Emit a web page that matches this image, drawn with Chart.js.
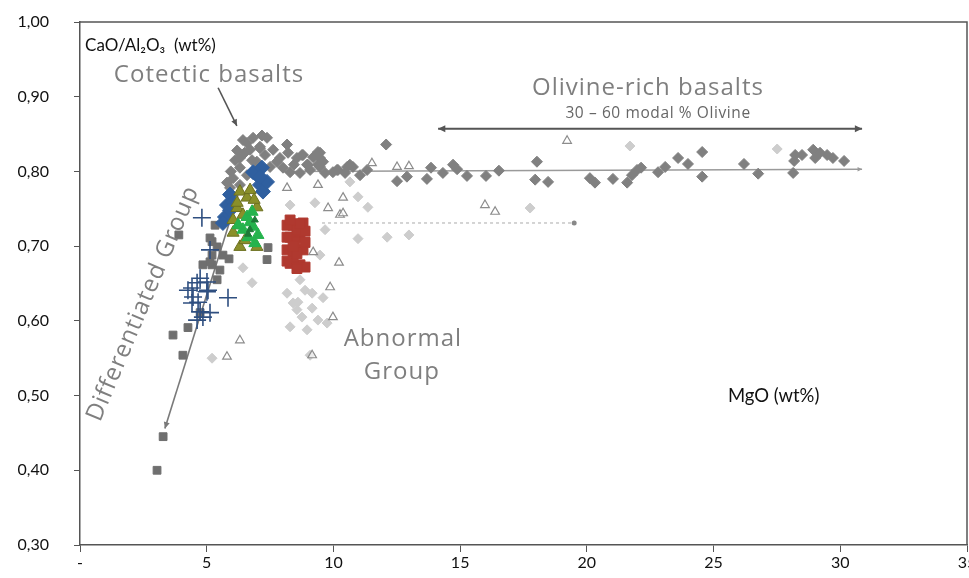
<!DOCTYPE html>
<html>
<head>
<meta charset="utf-8">
<script src="https://cdn.jsdelivr.net/npm/chart.js@4.4.1/dist/chart.umd.min.js"></script>
<style>
  html, body { margin: 0; padding: 0; background: #ffffff; overflow: hidden; }
  #wrap { width: 969px; height: 578px; overflow: hidden; position: relative; }
  #chart { position: absolute; left: 0; top: 0; }
</style>
</head>
<body>
<div id="wrap"><canvas id="chart" width="985" height="578"></canvas></div>
<script>
// Axis ticks
const xTickValues = [0, 5, 10, 15, 20, 25, 30, 35];
const xTickLabels = ['-', '5', '10', '15', '20', '25', '30', '35'];
const yTickLabels = ['0,30', '0,40', '0,50', '0,60', '0,70', '0,80', '0,90', '1,00'];

// Olivine-rich and cotectic basalts (MgO wt%, CaO/Al2O3)
const olivineMgO = [6.43, 6.83, 7.38, 7.18, 6.71, 6.31, 7.10, 7.62, 8.17, 8.21, 8.56, 8.80, 8.96, 9.20,
  6.31, 6.04, 5.80, 6.59, 7.77, 8.01, 7.50, 6.98, 8.29, 8.68, 9.08, 5.92, 6.31, 6.59, 7.10, 9.47, 9.59,
  10.14, 10.54, 6.12, 6.79, 7.30, 7.89, 8.44, 6.90, 9.39, 5.95, 6.20, 6.50,
  8.76, 8.99, 9.39, 9.47, 9.47, 9.67, 9.98, 10.18, 10.46, 10.65, 10.77, 11.05, 11.33, 12.08, 12.51, 12.90,
  13.69, 13.85, 14.32, 14.72, 14.88, 15.27, 16.02, 16.53, 18.03, 17.96, 18.47, 20.12, 20.32, 21.03, 21.59,
  21.78, 21.98, 22.14, 22.81, 23.09, 23.60, 23.99, 24.55, 24.55, 26.20, 26.76, 28.14, 28.18, 28.22, 28.49,
  28.93, 29.01, 29.20, 29.48, 29.71, 30.15];
const olivineRatio = [0.842, 0.845, 0.845, 0.848, 0.829, 0.818, 0.831, 0.829, 0.836, 0.825, 0.818, 0.822, 0.809, 0.819,
  0.805, 0.791, 0.785, 0.795, 0.813, 0.805, 0.806, 0.813, 0.799, 0.798, 0.802, 0.778, 0.782, 0.838, 0.833, 0.825, 0.813,
  0.802, 0.806, 0.815, 0.815, 0.822, 0.818, 0.809, 0.802, 0.809, 0.800, 0.828, 0.825,
  0.822, 0.809, 0.826, 0.818, 0.806, 0.798, 0.799, 0.802, 0.798, 0.809, 0.806, 0.795, 0.802, 0.836, 0.787, 0.793,
  0.790, 0.805, 0.798, 0.809, 0.803, 0.794, 0.794, 0.801, 0.813, 0.789, 0.786, 0.791, 0.785, 0.790, 0.785,
  0.795, 0.802, 0.805, 0.799, 0.806, 0.818, 0.810, 0.826, 0.793, 0.810, 0.797, 0.798, 0.814, 0.822, 0.822,
  0.829, 0.818, 0.825, 0.822, 0.818, 0.814];

// Abnormal group, light grey diamonds
const abnormalMgO = [9.27, 9.67, 10.65, 10.97, 11.36, 10.97, 12.12, 12.98, 17.76, 21.70, 27.51, 8.29,
  6.43, 6.79, 8.17, 8.60, 9.16, 9.59, 8.56, 8.76, 9.16, 9.39, 9.75, 8.29, 8.96, 9.08, 5.21, 9.47, 8.41, 8.88, 8.68];
const abnormalRatio = [0.758, 0.722, 0.786, 0.766, 0.752, 0.710, 0.712, 0.715, 0.751, 0.834, 0.830, 0.755,
  0.671, 0.651, 0.637, 0.625, 0.637, 0.631, 0.615, 0.605, 0.617, 0.601, 0.597, 0.592, 0.588, 0.554, 0.550, 0.688, 0.624, 0.641, 0.655];

// Open triangles
const openTriMgO = [9.39, 9.79, 10.26, 10.38, 10.38, 11.52, 12.51, 12.98, 15.98, 16.38, 19.22, 9.20, 10.22, 9.87, 9.98, 9.16, 6.31, 5.80, 8.17];
const openTriRatio = [0.782, 0.751, 0.742, 0.744, 0.765, 0.811, 0.806, 0.807, 0.755, 0.746, 0.841, 0.692, 0.678, 0.645, 0.605, 0.554, 0.574, 0.552, 0.778];

// Differentiated group, dark grey squares
const diffMgO = [3.04, 3.28, 4.06, 3.67, 4.26, 4.74, 5.41, 4.85, 5.21, 5.52, 5.21, 5.88, 7.38, 5.33, 5.21, 5.64, 5.13, 7.42, 3.90, 5.13, 5.41];
const diffRatio = [0.400, 0.445, 0.554, 0.581, 0.591, 0.611, 0.655, 0.675, 0.675, 0.668, 0.688, 0.683, 0.682, 0.728, 0.706, 0.688, 0.679, 0.698, 0.715, 0.711, 0.699];

// Blue crosses
const crossMgO = [4.81, 5.13, 4.74, 4.42, 4.26, 4.62, 5.01, 4.66, 4.42, 4.74, 4.85, 4.62, 5.84, 5.01, 4.46, 5.05, 5.13];
const crossRatio = [0.738, 0.695, 0.657, 0.644, 0.641, 0.651, 0.652, 0.625, 0.624, 0.612, 0.605, 0.601, 0.631, 0.639, 0.632, 0.641, 0.611];

// Blue diamonds
const blueMgO = [6.98, 7.10, 7.22, 6.83, 7.18, 7.38, 5.92, 5.80, 6.04, 5.72, 5.64, 7.10, 5.92];
const blueRatio = [0.795, 0.782, 0.773, 0.799, 0.805, 0.786, 0.769, 0.755, 0.759, 0.739, 0.731, 0.793, 0.748];

// Olive triangles
const oliveMgO = [6.31, 6.59, 6.20, 6.43, 6.24, 6.04, 6.31, 6.98, 6.20, 6.98, 6.04, 6.71, 6.51, 6.87];
const oliveRatio = [0.773, 0.765, 0.751, 0.742, 0.728, 0.718, 0.699, 0.699, 0.758, 0.752, 0.735, 0.775, 0.708, 0.762];

// Green triangles
const greenMgO = [6.59, 6.83, 6.63, 7.02, 6.43, 6.79, 6.90, 6.24, 6.71];
const greenRatio = [0.739, 0.726, 0.712, 0.715, 0.722, 0.746, 0.704, 0.728, 0.732];
const darkGreenMgO = [6.71, 6.90, 6.63];
const darkGreenRatio = [0.722, 0.735, 0.716];

// Red squares
const redMgO = [8.41, 8.80, 8.29, 8.68, 8.17, 8.80, 8.29, 8.68, 8.88, 8.56, 8.48, 8.41,
  8.17, 8.88, 8.17, 8.88, 8.17, 8.56, 8.56, 8.41, 8.68, 8.29];
const redRatio = [0.728, 0.731, 0.712, 0.712, 0.695, 0.695, 0.677, 0.675, 0.672, 0.722, 0.705, 0.685,
  0.728, 0.720, 0.712, 0.705, 0.680, 0.690, 0.670, 0.700, 0.730, 0.735];

const pts = (xs, ys) => xs.map((x, i) => ({ x: x, y: ys[i] }));

// Guide lines and arrows, in axis units
const guides = [
  { from: [8.0, 0.800], to: [30.86, 0.803], color: '#9a9a9a', width: 1.6, head: 'end', size: 5 },
  { from: [9.55, 0.731], to: [19.5, 0.731], color: '#b8b8b8', width: 1.2, dash: [3, 3], dot: true },
  { from: [14.13, 0.857], to: [30.86, 0.857], color: '#555555', width: 2, head: 'both', size: 8 },
  { from: [5.45, 0.912], to: [6.19, 0.861], color: '#555555', width: 1.6, head: 'end', size: 7 },
  { from: [6.23, 0.768], to: [3.35, 0.456], color: '#7a7a7a', width: 1.6, head: 'end', size: 7 }
];

// Text labels, in axis units
const notes = [
  { text: 'CaO/Al₂O₃  (wt%)', at: [0.2, 0.969], font: '17px Lato', color: '#111111', align: 'left' },
  { text: 'Cotectic basalts', at: [5.09, 0.929], font: '24px "Open Sans"', color: '#7f7f7f', spacing: '1px' },
  { text: 'Olivine-rich basalts', at: [22.41, 0.912], font: '24px "Open Sans"', color: '#7f7f7f', spacing: '1px' },
  { text: '30 – 60 modal % Olivine', at: [22.81, 0.877], font: '15.5px "Open Sans"', color: '#666666', spacing: '0.6px' },
  { text: 'Abnormal', at: [12.74, 0.576], font: '24px "Open Sans"', color: '#7f7f7f', spacing: '1px' },
  { text: 'Group', at: [12.70, 0.532], font: '24px "Open Sans"', color: '#7f7f7f', spacing: '1px' },
  { text: 'Differentiated Group', at: [2.49, 0.623], font: '24px "Open Sans"', color: '#7f7f7f', spacing: '1px', angle: -67 },
  { text: 'MgO (wt%)', at: [27.37, 0.499], font: '18.5px Lato', color: '#111111' }
];

function arrowHead(ctx, x1, y1, x2, y2, size) {
  const a = Math.atan2(y2 - y1, x2 - x1);
  ctx.beginPath();
  ctx.moveTo(x2, y2);
  ctx.lineTo(x2 - size * Math.cos(a - 0.45), y2 - size * Math.sin(a - 0.45));
  ctx.lineTo(x2 - size * Math.cos(a + 0.45), y2 - size * Math.sin(a + 0.45));
  ctx.closePath();
  ctx.fill();
}

const overlayPlugin = {
  id: 'overlay',
  beforeDatasetsDraw(chart) {
    const { ctx, scales: { x, y } } = chart;
    ctx.save();
    guides.forEach(g => {
      const x1 = x.getPixelForValue(g.from[0]), y1 = y.getPixelForValue(g.from[1]);
      const x2 = x.getPixelForValue(g.to[0]), y2 = y.getPixelForValue(g.to[1]);
      ctx.strokeStyle = g.color; ctx.fillStyle = g.color; ctx.lineWidth = g.width;
      ctx.setLineDash(g.dash || []);
      ctx.beginPath(); ctx.moveTo(x1, y1); ctx.lineTo(x2, y2); ctx.stroke();
      ctx.setLineDash([]);
      if (g.head === 'end' || g.head === 'both') arrowHead(ctx, x1, y1, x2, y2, g.size);
      if (g.head === 'both') arrowHead(ctx, x2, y2, x1, y1, g.size);
      if (g.dot) { ctx.fillStyle = '#888'; ctx.beginPath(); ctx.arc(x2, y2, 2.5, 0, Math.PI * 2); ctx.fill(); }
    });
    ctx.restore();
  },
  afterDraw(chart) {
    const { ctx, chartArea: a, scales: { x, y } } = chart;
    ctx.save();
    // frame on top and right
    ctx.strokeStyle = '#555555'; ctx.lineWidth = 1.5;
    ctx.beginPath();
    ctx.moveTo(a.left, a.top); ctx.lineTo(a.right, a.top); ctx.lineTo(a.right, a.bottom);
    ctx.stroke();
    notes.forEach(n => {
      const px = x.getPixelForValue(n.at[0]), py = y.getPixelForValue(n.at[1]);
      ctx.save();
      ctx.translate(px, py);
      if (n.angle) ctx.rotate(n.angle * Math.PI / 180);
      ctx.font = n.font; ctx.fillStyle = n.color;
      if ('letterSpacing' in ctx) ctx.letterSpacing = n.spacing || '0px';
      ctx.textAlign = n.align || 'center'; ctx.textBaseline = 'middle';
      ctx.fillText(n.text, 0, 0);
      ctx.restore();
    });
    ctx.restore();
  }
};

new Chart(document.getElementById('chart'), {
  type: 'scatter',
  data: {
    datasets: [
      { label: 'Olivine-rich basalts', data: pts(olivineMgO, olivineRatio), pointStyle: 'rectRot', radius: 5.5,
        backgroundColor: '#808080', borderColor: '#808080', order: 9 },
      { label: 'Abnormal group', data: pts(abnormalMgO, abnormalRatio), pointStyle: 'rectRot', radius: 5,
        backgroundColor: '#cdcdcd', borderColor: '#cdcdcd', order: 8 },
      { label: 'Open triangles', data: pts(openTriMgO, openTriRatio), pointStyle: 'triangle', radius: 5,
        backgroundColor: 'rgba(255,255,255,0.6)', borderColor: '#8c8c8c', borderWidth: 1.2, order: 7 },
      { label: 'Differentiated group', data: pts(diffMgO, diffRatio), pointStyle: 'rect', radius: 5.5,
        backgroundColor: '#6f6f6f', borderColor: '#6f6f6f', order: 6 },
      { label: 'Blue crosses', data: pts(crossMgO, crossRatio), pointStyle: 'cross', radius: 9,
        backgroundColor: '#2f4f80', borderColor: '#2f4f80', borderWidth: 1.6, order: 5 },
      { label: 'Blue diamonds', data: pts(blueMgO, blueRatio), pointStyle: 'rectRot', radius: 7.5,
        backgroundColor: '#2f5f9f', borderColor: '#2f5f9f', order: 4 },
      { label: 'Olive triangles', data: pts(oliveMgO, oliveRatio), pointStyle: 'triangle', radius: 7,
        backgroundColor: '#8a8f2a', borderColor: '#6d7020', order: 3 },
      { label: 'Green triangles', data: pts(greenMgO, greenRatio), pointStyle: 'triangle', radius: 7,
        backgroundColor: '#25b34d', borderColor: '#25b34d', order: 2 },
      { label: 'Dark green triangles', data: pts(darkGreenMgO, darkGreenRatio), pointStyle: 'triangle', radius: 4,
        backgroundColor: '#1d7a38', borderColor: '#1d7a38', order: 1 },
      { label: 'Red squares', data: pts(redMgO, redRatio), pointStyle: 'rect', radius: 7,
        backgroundColor: '#b0392f', borderColor: '#b0392f', order: 0 }
    ]
  },
  options: {
    responsive: false,
    animation: false,
    events: [],
    layout: { padding: { top: 22, right: 18, left: 0, bottom: 0 } },
    plugins: { legend: { display: false }, tooltip: { enabled: false } },
    scales: {
      x: {
        type: 'linear', min: 0, max: 35,
        afterBuildTicks: s => { s.ticks = xTickValues.map(v => ({ value: v })); },
        afterFit: s => { s.height = 33; s.paddingLeft = 0; },
        ticks: { callback: (v) => xTickLabels[xTickValues.indexOf(v)], color: '#111', padding: 1,
                 font: { family: 'Lato', size: 16 }, maxRotation: 0 },
        grid: { drawOnChartArea: false, drawTicks: true, tickLength: 7, color: '#555555', lineWidth: 1 },
        border: { color: '#555555', width: 1.5 }
      },
      y: {
        type: 'linear', min: 0.3, max: 1.0,
        afterBuildTicks: s => { s.ticks = yTickLabels.map((t, i) => ({ value: 0.3 + i * 0.1 })); },
        afterFit: s => { s.width = 80; s.paddingTop = 0; s.paddingBottom = 0; },
        ticks: { callback: (v, i) => yTickLabels[i], color: '#111', padding: 25,
                 font: { family: 'Lato', size: 16 } },
        grid: { drawOnChartArea: false, drawTicks: true, tickLength: 6, color: '#555555', lineWidth: 1 },
        border: { color: '#555555', width: 1.5 }
      }
    }
  },
  plugins: [overlayPlugin]
});
</script>
</body>
</html>
